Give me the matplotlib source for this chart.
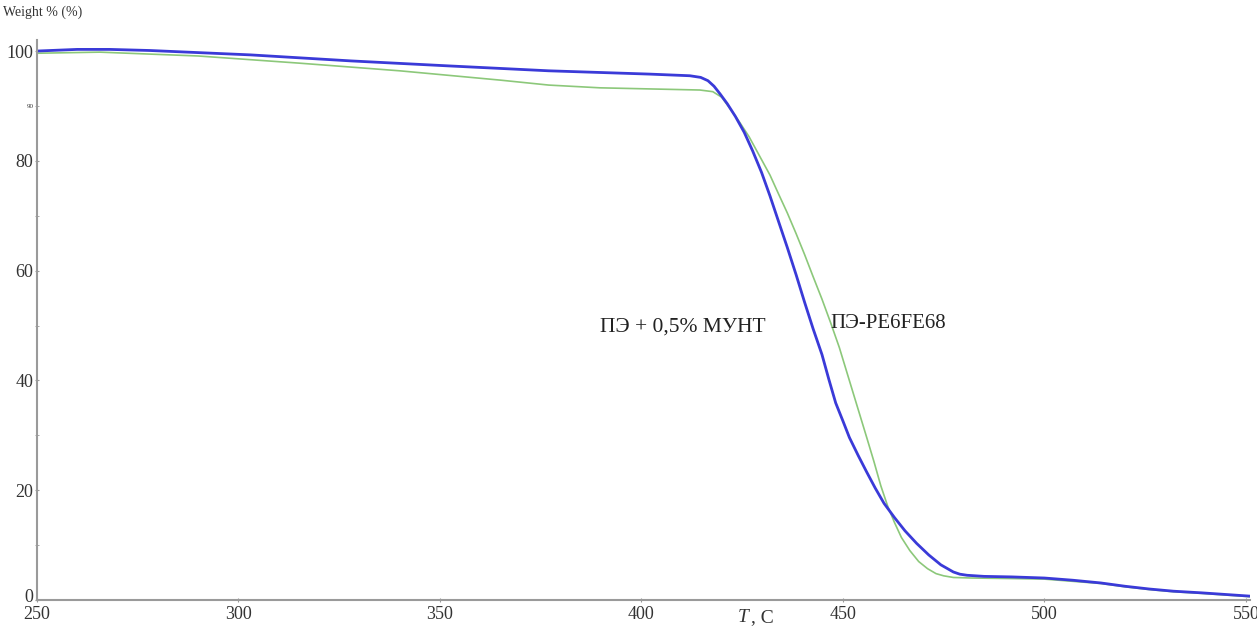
import matplotlib.pyplot as plt
import matplotlib.transforms as mtransforms
import numpy as np

plt.rcParams['font.family'] = ['Liberation Serif', 'DejaVu Serif']

# blue curve: PE + 0.5% MWCNT
t_blue = [250, 260, 268, 278, 303, 328, 352, 377, 402, 412, 414.7, 416.5, 418,
          419.5, 421.3, 423.3, 425.5, 427.6, 429.8, 431.9, 434, 436.2, 438.4,
          440.5, 442.6, 444.8, 446.5, 448.2, 450, 451.6, 453.8, 455.9, 458,
          460.2, 462.8, 465.4, 468.3, 471.3, 474.3, 477.4, 479, 480.8, 485, 492,
          500, 507, 514, 520, 526, 532, 539, 545, 551]
w_blue = [100.0, 100.3, 100.3, 100.1, 99.3, 98.2, 97.3, 96.4, 95.8, 95.5, 95.2,
          94.6, 93.6, 92.2, 90.4, 88.1, 85.2, 81.8, 77.9, 73.6, 69.0, 64.2, 59.2,
          54.2, 49.4, 44.7, 40.2, 35.9, 32.6, 29.6, 26.3, 23.3, 20.4, 17.6, 15.0,
          12.6, 10.3, 8.2, 6.4, 5.1, 4.7, 4.5, 4.3, 4.2, 4.0, 3.6, 3.1, 2.5, 2.0,
          1.6, 1.3, 1.0, 0.7]

# green curve: PE-PE6FE68
t_green = [250, 265.6, 290, 315, 340, 365, 377, 389.7, 402, 414.5, 417.7, 419.9,
           422, 424.3, 426.7, 429.3, 431.9, 434, 436.2, 438.4, 440.5, 442.6,
           444.8, 447, 449.1, 450.8, 452.5, 454.2, 455.9, 457.7, 459.4, 461.1,
           462.8, 464.5, 466.6, 468.8, 471, 473.1, 475, 477.4, 482, 492, 500,
           507, 514, 520, 526, 532, 539, 545, 551]
w_green = [99.6, 99.8, 99.1, 97.8, 96.4, 94.7, 93.8, 93.3, 93.1, 92.9, 92.6, 91.6,
           89.5, 87.1, 84.4, 80.9, 77.4, 74.0, 70.5, 66.7, 62.9, 58.9, 54.8, 50.4,
           46.0, 41.9, 37.8, 33.7, 29.6, 25.2, 20.8, 17.1, 14.1, 11.4, 9.0, 7.0,
           5.7, 4.8, 4.4, 4.1, 4.0, 3.9, 3.8, 3.4, 3.0, 2.4, 1.9, 1.5, 1.2, 0.9,
           0.6]

y_major = [0, 20, 40, 60, 80, 100]
y_minor = [10, 30, 50, 70, 90]
x_ticks = [250, 300, 350, 400, 450, 500, 550]

fig = plt.figure(figsize=(12.57, 6.27), dpi=100)
ax = fig.add_axes([0.0294, 0.0431, 0.965, 0.893])

ax.plot(t_green, w_green, color='#8cc87a', lw=1.2)
ax.plot(t_blue, w_blue, color='#3a3ad8', lw=2.0)

ax.set_xlim(250, 551)
ax.set_ylim(0, 102)
ax.set_xticks(x_ticks)
ax.set_yticks(y_major)
ax.set_yticks(y_minor, ['', '', '', '', '90'], minor=True)

for s in ['top', 'right']:
    ax.spines[s].set_visible(False)
for s in ['left', 'bottom']:
    ax.spines[s].set_color('#9a9a9a')
    ax.spines[s].set_linewidth(1.5)

ax.tick_params(which='both', direction='inout', length=3, color='#9a9a9a',
               labelsize=13, pad=1, labelcolor='#333333')
ax.tick_params(axis='x', pad=3)
ax.tick_params(which='minor', labelsize=5)

# lift the "0" label a little so it clears the "250" below it
zero = ax.get_yticklabels()[0]
zero.set_transform(zero.get_transform() +
                   mtransforms.ScaledTranslation(0, 3 / 72, fig.dpi_scale_trans))

ax.text(-0.028, 1.05, 'Weight % (%)', transform=ax.transAxes, fontsize=10,
        color='#333333', ha='left', va='center')
ax.text(0.578, -0.032, 'T', transform=ax.transAxes, fontsize=14, style='italic',
        color='#333333', ha='left', va='center')
ax.text(0.589, -0.032, ', C', transform=ax.transAxes, fontsize=14,
        color='#333333', ha='left', va='center')

ax.text(410.3, 49.7, 'ПЭ + 0,5% МУНТ', fontsize=15.5, color='#222222',
        ha='center', va='center')
ax.text(446.8, 50.3, 'ПЭ-PE6FE68', fontsize=15, color='#222222',
        ha='left', va='center')

fig.savefig('out.png', dpi=100)
